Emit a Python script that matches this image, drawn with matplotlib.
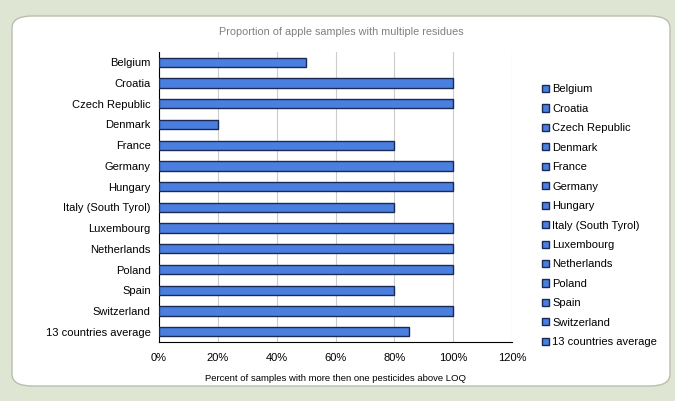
import matplotlib
matplotlib.use("Agg")
import matplotlib.pyplot as plt
from matplotlib.patches import FancyBboxPatch, Patch

countries = ["Belgium", "Croatia", "Czech Republic", "Denmark", "France", "Germany",
             "Hungary", "Italy (South Tyrol)", "Luxembourg", "Netherlands", "Poland",
             "Spain", "Switzerland", "13 countries average"]
values = [50, 100, 100, 20, 80, 100, 100, 80, 100, 100, 100, 80, 100, 85]
xticks = [0, 20, 40, 60, 80, 100, 120]
xticklabels = ["0%", "20%", "40%", "60%", "80%", "100%", "120%"]

plt.rcParams['font.family'] = ['Liberation Sans', 'DejaVu Sans']

fig = plt.figure(figsize=(6.75, 4.01), dpi=100, facecolor="#dfe5d3")
W, H = 675, 401
panel = FancyBboxPatch((12 / W, 1 - 386 / H), (670 - 12) / W, (386 - 16) / H,
                       boxstyle="round,pad=0,rounding_size=0.03",
                       transform=fig.transFigure, facecolor="white",
                       edgecolor="#b9bfae", linewidth=1.0, zorder=-5)
fig.patches.append(panel)

ax = fig.add_axes([159 / W, 1 - 342 / H, (512 - 159) / W, (342 - 52) / H])
ax.set_zorder(2)
ax.set_facecolor("none")
bar_color = "#4a7fe0"
edge_color = "#1a2a55"
y = list(range(len(countries)))
ax.barh(y, values, height=0.45, color=bar_color, edgecolor=edge_color, linewidth=1.0, zorder=3)
ax.set_ylim(len(countries) - 0.5, -0.5)
ax.set_xlim(0, 120)
ax.set_yticks(y)
ax.set_yticklabels(countries, fontsize=8)
ax.set_xticks(xticks)
ax.set_xticklabels(xticklabels, fontsize=8)
ax.tick_params(axis='y', length=0, pad=6)
ax.tick_params(axis='x', length=0, pad=8)
ax.grid(axis='x', color="#cccccc", linewidth=0.8, zorder=0)
for s in ["top", "right"]:
    ax.spines[s].set_visible(False)
ax.spines["left"].set_color("black")
ax.spines["bottom"].set_color("black")
ax.spines["left"].set_linewidth(0.8)
ax.spines["bottom"].set_linewidth(0.8)
ax.set_xlabel("Percent of samples with more then one pesticides above LOQ", fontsize=6.8, labelpad=8)

fig.text(341 / W, 1 - 32 / H, "Proportion of apple samples with multiple residues",
         ha="center", va="center", fontsize=7.8, color="#808080")

handles = [Patch(facecolor=bar_color, edgecolor=edge_color, linewidth=1.0) for _ in countries]
leg = fig.legend(handles, countries, loc="upper left", bbox_to_anchor=(538 / W, 1 - 80 / H),
                 frameon=False, fontsize=8, handlelength=0.6, handleheight=0.6,
                 handletextpad=0.3, labelspacing=0.85, borderaxespad=0)

fig.savefig("out.png", dpi=100, facecolor=fig.get_facecolor())
